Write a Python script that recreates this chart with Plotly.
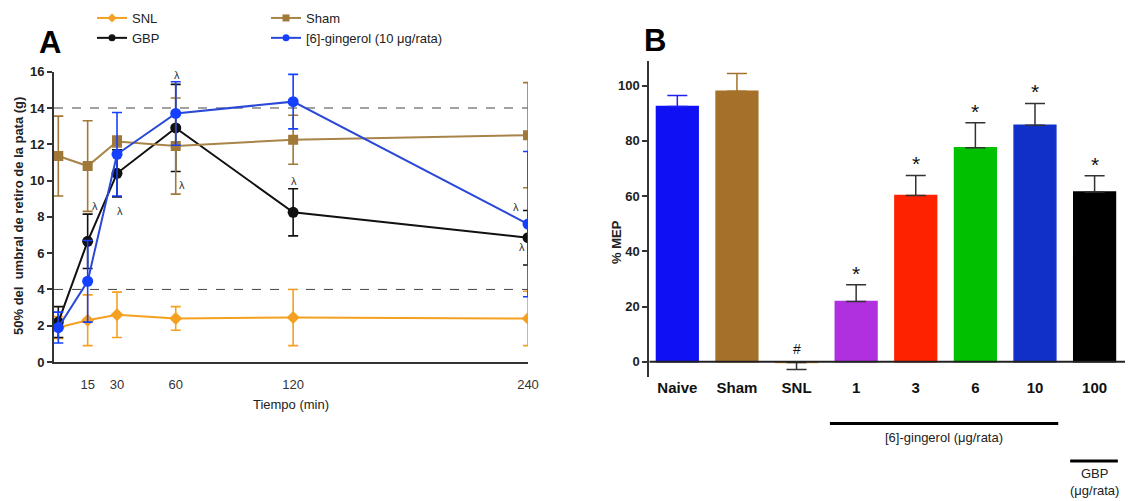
import plotly.graph_objects as go

# ---------------- Panel A data ----------------
time = [0, 15, 30, 60, 120, 240]
time_ticks = [15, 30, 60, 120, 240]
snl_mean = [1.9, 2.3, 2.6, 2.4, 2.45, 2.4]
snl_err = [0.6, 1.4, 1.25, 0.65, 1.55, 1.5]
sham_mean = [11.35, 10.8, 12.15, 11.9, 12.25, 12.5]
sham_err = [2.2, 2.5, 0.3, 2.65, 1.35, 2.9]
gbp_mean = [2.2, 6.65, 10.4, 12.9, 8.25, 6.85]
gbp_err = [0.85, 1.5, 1.3, 2.4, 1.3, 1.5]
ging_mean = [1.9, 4.45, 11.45, 13.7, 14.35, 7.6]
ging_err = [0.85, 2.25, 2.3, 1.75, 1.5, 4.0]
ref_lines = [14, 4]
lam_x = [18.7, 31.6, 60.9, 63.4, 120.4, 120.4, 234.0, 237.0]
lam_y = [8.62, 8.3, 15.8, 9.77, 16.3, 9.95, 8.57, 6.35]

# ---------------- Panel B data ----------------
groups = ["Naive", "Sham", "SNL", "1", "3", "6", "10", "100"]
mep = [92.5, 98.0, -0.3, 21.8, 60.2, 77.5, 85.7, 61.5]
mep_err = [4.0, 6.4, 2.5, 6.1, 7.3, 9.1, 7.9, 5.9]
bar_colors = ["#1010f5", "#a5702a", "#f0a030", "#b030e0", "#ff2200", "#00c000", "#1030c8", "#000000"]
err_colors = ["#2020f0", "#a5702a", "#333333", "#333333", "#333333", "#333333", "#333333", "#333333"]
marks = ["", "", "#", "*", "*", "*", "*", "*"]

FONT = "Liberation Sans, Arial, Helvetica, sans-serif"
W, H = 1131, 501

fig = go.Figure()

series = [
    ("SNL", snl_mean, snl_err, "#f5a020", "#f5a020", "diamond", 10, "legend"),
    ("GBP", gbp_mean, gbp_err, "#111111", "#111111", "circle", 11, "legend"),
    ("Sham", sham_mean, sham_err, "#a07838", "#a88448", "square", 10, "legend2"),
    ("[6]-gingerol (10 μg/rata)", ging_mean, ging_err, "#1540ff", "#2a48d8", "circle", 11, "legend2"),
]
for name, m, e, mc, lc, sym, sz, lg in series:
    fig.add_trace(go.Scatter(
        x=time, y=m, name=name, mode="lines+markers", showlegend=False,
        line=dict(color=lc, width=2),
        marker=dict(color=mc, symbol=sym, size=sz),
        error_y=dict(type="data", array=e, color=mc, thickness=1.6, width=5),
        xaxis="x", yaxis="y",
    ))
    # legend-only entry with smaller symbol, as in the reference key
    fig.add_trace(go.Scatter(
        x=[None], y=[None], name=name, mode="lines+markers", legend=lg,
        line=dict(color=lc, width=2),
        marker=dict(color=mc, symbol=sym, size=7),
        xaxis="x", yaxis="y",
    ))

# reference dashed lines
for v in ref_lines:
    fig.add_shape(type="line", xref="x", yref="y", x0=-2.2, x1=240, y0=v, y1=v,
                  line=dict(color="#444444", width=1, dash="dash"), layer="below")

for lx, ly in zip(lam_x, lam_y):
    fig.add_annotation(x=lx, y=ly, xref="x", yref="y", text="λ", showarrow=False,
                       font=dict(family=FONT, size=11, color="#333333"))

# ---------------- Panel B bars ----------------
for i, g in enumerate(groups):
    up = mep_err[i] if mep[i] >= 0 else 0
    dn = mep_err[i] if mep[i] < 0 else 0
    fig.add_trace(go.Bar(
        x=[i], y=[mep[i]], width=0.7, showlegend=False,
        marker=dict(color=bar_colors[i], line=dict(color=bar_colors[i], width=1.5)),
        error_y=dict(type="data", symmetric=False, array=[up], arrayminus=[dn],
                     color=err_colors[i], thickness=1.5, width=10),
        xaxis="x2", yaxis="y2",
    ))
    if marks[i]:
        top = mep[i] + mep_err[i] if mep[i] >= 0 else 0
        fig.add_annotation(x=i, y=top, xref="x2", yref="y2", text=marks[i], showarrow=False,
                           yanchor="bottom", yshift=-2 if marks[i] == "*" else 3,
                           font=dict(family=FONT, size=21 if marks[i] == "*" else 14, color="#111111"))

fig.add_shape(type="line", xref="x2", yref="y2", x0=-0.47, x1=7.51, y0=0, y1=0,
              line=dict(color="#222222", width=2))

# group brackets under panel B
fig.add_shape(type="line", xref="x2", yref="paper", x0=2.56, x1=6.39, y0=1 - 423.5 / H, y1=1 - 423.5 / H,
              line=dict(color="#000000", width=3))
fig.add_annotation(x=(2.56 + 6.39) / 2, y=1 - 428 / H, xref="x2", yref="paper", yanchor="top",
                   text="[6]-gingerol (μg/rata)", showarrow=False,
                   font=dict(family=FONT, size=13, color="#222222"))
fig.add_shape(type="line", xref="x2", yref="paper", x0=6.59, x1=7.39, y0=1 - 461 / H, y1=1 - 461 / H,
              line=dict(color="#000000", width=3))
fig.add_annotation(x=6.99, y=1 - 464 / H, xref="x2", yref="paper", yanchor="top",
                   text="GBP<br>(μg/rata)", showarrow=False, align="center",
                   font=dict(family=FONT, size=13, color="#222222"))

# Panel letters
fig.add_annotation(x=50 / W, y=1 - 42 / H, xref="paper", yref="paper", text="<b>A</b>",
                   xanchor="center", yanchor="middle",
                   showarrow=False, font=dict(family=FONT, size=31, color="#000000"))
fig.add_annotation(x=655 / W, y=1 - 40 / H, xref="paper", yref="paper", text="<b>B</b>",
                   xanchor="center", yanchor="middle",
                   showarrow=False, font=dict(family=FONT, size=31, color="#000000"))

# Axis titles (placed as rotated annotations)
fig.add_annotation(x=18 / W, y=1 - 216 / H, xref="paper", yref="paper", textangle=-90,
                   xanchor="center", yanchor="middle", showarrow=False,
                   text="<b>50% del  umbral de retiro de la pata (g)</b>",
                   font=dict(family=FONT, size=13, color="#222222"))
fig.add_annotation(x=616 / W, y=1 - 242 / H, xref="paper", yref="paper", textangle=-90,
                   xanchor="center", yanchor="middle", showarrow=False,
                   text="<b>% MEP</b>", font=dict(family=FONT, size=13, color="#222222"))

axis_common = dict(showgrid=False, zeroline=False, showline=True, linecolor="#333333", linewidth=2,
                   tickwidth=2, automargin=False)

fig.update_layout(
    width=W, height=H, margin=dict(l=0, r=0, t=0, b=0, autoexpand=False),
    plot_bgcolor="white", paper_bgcolor="white",
    font=dict(family=FONT, color="#222222"),
    barmode="overlay",
    xaxis=dict(domain=[54 / W, 528 / W], range=[-2.2, 240], tickvals=time_ticks,
               ticks="outside", ticklen=9, tickcolor="rgba(0,0,0,0)",
               tickfont=dict(size=13, color="#333333"),
               title=dict(text="Tiempo (min)", font=dict(size=13), standoff=9),
               anchor="y", **axis_common),
    yaxis=dict(domain=[1 - 362 / H, 1 - 71.7 / H], range=[0, 16], dtick=2,
               ticks="outside", ticklen=5, tickcolor="#333333",
               tickfont=dict(size=13, color="#222222", weight="bold"),
               anchor="x", **axis_common),
    xaxis2=dict(domain=[649.3 / W, 1125 / W], range=[-0.47, 7.51], tickvals=list(range(len(groups))),
                ticktext=["<b>%s</b>" % g for g in groups], tickfont=dict(size=15, color="#111111"),
                showgrid=False, zeroline=False, showline=False, ticks="", anchor="y2", automargin=False),
    yaxis2=dict(domain=[1 - 376.9 / H, 1 - 60.9 / H], range=[-5.5, 109], tickvals=[0, 20, 40, 60, 80, 100],
                ticks="outside", ticklen=5, tickcolor="#333333",
                tickfont=dict(size=13, color="#222222", weight="bold"),
                anchor="x2", **axis_common),
    legend=dict(x=92 / W, y=1 - 3 / H, xanchor="left", yanchor="top", bgcolor="rgba(0,0,0,0)",
                font=dict(size=13, color="#222222"), itemwidth=30, tracegroupgap=0),
    legend2=dict(x=266 / W, y=1 - 3 / H, xanchor="left", yanchor="top", bgcolor="rgba(0,0,0,0)",
                 font=dict(size=13, color="#222222"), itemwidth=30, tracegroupgap=0),
)

fig.write_html("out.html")
